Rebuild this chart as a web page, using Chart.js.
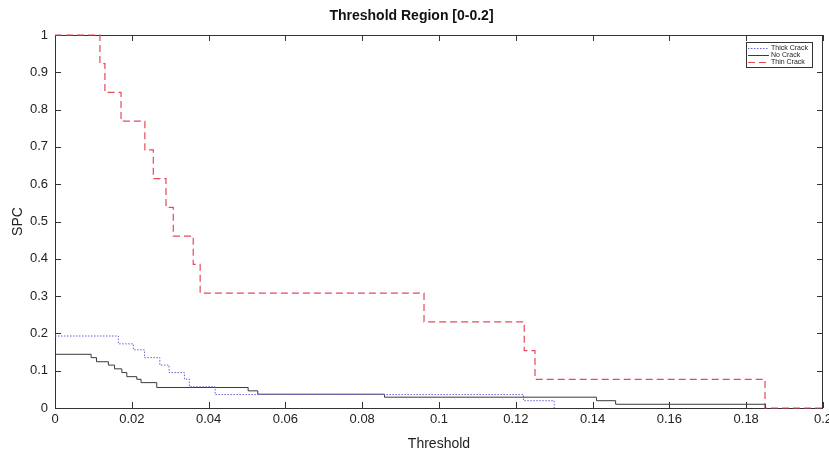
<!DOCTYPE html>
<html>
<head>
<meta charset="utf-8">
<script src="https://cdn.jsdelivr.net/npm/chart.js@4.4.0/dist/chart.umd.min.js"></script>
<style>
    html, body { margin: 0; padding: 0; background: #fff; }
</style>
</head>
<body>
<canvas id="spcChart" width="829" height="455"></canvas>
<script>
// Step curves: each x is where the curve takes the new y value
const thickX = [0, 0.0165, 0.0204, 0.0233, 0.0273, 0.0297, 0.0337, 0.035, 0.0417, 0.122, 0.13];
const thickY = [0.193, 0.172, 0.156, 0.135, 0.115, 0.095, 0.077, 0.057, 0.036, 0.0196, 0];

const noX = [0, 0.0094, 0.0108, 0.0139, 0.0155, 0.0174, 0.0187, 0.0213, 0.0224, 0.0265, 0.0503, 0.0528, 0.0858, 0.141, 0.146, 0.185];
const noY = [0.144, 0.135, 0.124, 0.115, 0.105, 0.095, 0.084, 0.077, 0.068, 0.055, 0.046, 0.037, 0.029, 0.0196, 0.01, 0];

const thinX = [0, 0.0117, 0.013, 0.0172, 0.0234, 0.0256, 0.0289, 0.0308, 0.036, 0.0378, 0.0961, 0.1222, 0.125, 0.1849, 0.2];
const thinY = [1, 0.923, 0.846, 0.769, 0.692, 0.615, 0.538, 0.461, 0.385, 0.308, 0.231, 0.154, 0.077, 0, 0];

const seriesNames = ['Thick Crack', 'No Crack', 'Thin Crack'];
const xTickStep = 0.02;
const yTickStep = 0.1;

function toPoints(xs, ys) {
    return xs.map((x, i) => ({ x: x, y: ys[i] }));
}

function fmt(value) {
    return String(Number(value.toFixed(4)));
}

// frame + inward tick marks (matlab style) under the lines, boxed legend on top
const matlabFrame = {
    id: 'matlabFrame',
    beforeDatasetsDraw(chart) {
        const { ctx, chartArea: a, scales: { x, y } } = chart;
        ctx.save();
        ctx.strokeStyle = '#333';
        ctx.lineWidth = 1;
        ctx.setLineDash([]);
        ctx.strokeRect(a.left + 0.5, a.top + 0.5, a.right - a.left - 1, a.bottom - a.top);

        ctx.beginPath();
        x.ticks.forEach(t => {
            const px = Math.round(x.getPixelForValue(t.value)) + 0.5;
            ctx.moveTo(px, a.bottom); ctx.lineTo(px, a.bottom - 6);
            ctx.moveTo(px, a.top); ctx.lineTo(px, a.top + 6);
        });
        y.ticks.forEach(t => {
            const py = Math.round(y.getPixelForValue(t.value)) + 0.5;
            ctx.moveTo(a.left, py); ctx.lineTo(a.left + 6, py);
            ctx.moveTo(a.right, py); ctx.lineTo(a.right - 6, py);
        });
        ctx.stroke();
        ctx.restore();
    },
    afterDatasetsDraw(chart) {
        const { ctx, chartArea: a } = chart;
        ctx.save();
        const bx = a.right - 77, by = a.top + 7, bw = 66, bh = 25;
        ctx.fillStyle = '#fff';
        ctx.fillRect(bx, by, bw, bh);
        ctx.strokeStyle = '#333';
        ctx.lineWidth = 1;
        ctx.strokeRect(bx + 0.5, by + 0.5, bw, bh);
        ctx.font = '7px "Liberation Sans", Arial, sans-serif';
        ctx.textBaseline = 'middle';
        chart.data.datasets.forEach((ds, i) => {
            const ly = by + 6 + i * 7 + 0.5;
            ctx.strokeStyle = ds.borderColor;
            ctx.lineWidth = ds.borderWidth;
            ctx.setLineDash(ds.borderDash || []);
            ctx.beginPath();
            ctx.moveTo(bx + 2, ly);
            ctx.lineTo(bx + 23, ly);
            ctx.stroke();
            ctx.fillStyle = '#222';
            ctx.fillText(ds.label, bx + 25, ly);
        });
        ctx.restore();
    }
};

document.addEventListener('DOMContentLoaded', function () {
    const ctx = document.getElementById('spcChart').getContext('2d');
    new Chart(ctx, {
        type: 'line',
        data: {
            datasets: [
                {
                    label: seriesNames[0],
                    data: toPoints(thickX, thickY),
                    borderColor: 'rgb(100, 100, 215)',
                    borderDash: [1.5, 1.5],
                    borderWidth: 1,
                    stepped: 'before', // horizontal run first, then the drop
                    pointRadius: 0,
                    clip: 3,
                    fill: false
                },
                {
                    label: seriesNames[1],
                    data: toPoints(noX, noY),
                    borderColor: '#3a3a3a',
                    borderWidth: 1,
                    stepped: 'before',
                    pointRadius: 0,
                    clip: 3,
                    fill: false
                },
                {
                    label: seriesNames[2],
                    data: toPoints(thinX, thinY),
                    borderColor: 'rgb(232, 72, 92)',
                    borderDash: [7, 4],
                    borderWidth: 1.2,
                    stepped: 'before',
                    pointRadius: 0,
                    clip: 3,
                    fill: false
                }
            ]
        },
        options: {
            responsive: false,
            animation: false,
            layout: { padding: { top: 0, right: 6, bottom: 0, left: 0 } },
            scales: {
                x: {
                    type: 'linear',
                    min: 0,
                    max: 0.2,
                    grid: { display: false, drawTicks: false },
                    border: { display: false },
                    ticks: {
                        stepSize: xTickStep,
                        padding: 4,
                        color: '#222',
                        font: { family: '"Liberation Sans", Arial, sans-serif', size: 13 },
                        callback: fmt
                    },
                    title: {
                        display: true,
                        text: 'Threshold',
                        color: '#222',
                        padding: { top: 0, bottom: 2 },
                        font: { family: '"Liberation Sans", Arial, sans-serif', size: 14 }
                    },
                    afterFit: function (scale) {
                        scale.height = 47;
                        scale.paddingLeft = 0;
                        scale.paddingRight = 0;
                    }
                },
                y: {
                    min: 0,
                    max: 1,
                    grid: { display: false, drawTicks: false },
                    border: { display: false },
                    ticks: {
                        stepSize: yTickStep,
                        padding: 7,
                        color: '#222',
                        font: { family: '"Liberation Sans", Arial, sans-serif', size: 13 },
                        callback: fmt
                    },
                    title: {
                        display: true,
                        text: 'SPC',
                        color: '#222',
                        padding: { top: 10, bottom: 0 },
                        font: { family: '"Liberation Sans", Arial, sans-serif', size: 14 }
                    },
                    afterFit: function (scale) {
                        scale.width = 55;
                        scale.paddingTop = 0;
                        scale.paddingBottom = 0;
                    }
                }
            },
            plugins: {
                legend: { display: false },
                tooltip: { enabled: false },
                title: {
                    display: true,
                    text: 'Threshold Region [0-0.2]',
                    color: '#111',
                    padding: { top: 8, bottom: 10.2 },
                    font: { family: '"Liberation Sans", Arial, sans-serif', size: 14, weight: 'bold' }
                }
            }
        },
        plugins: [matlabFrame]
    });
});
</script>
</body>
</html>
